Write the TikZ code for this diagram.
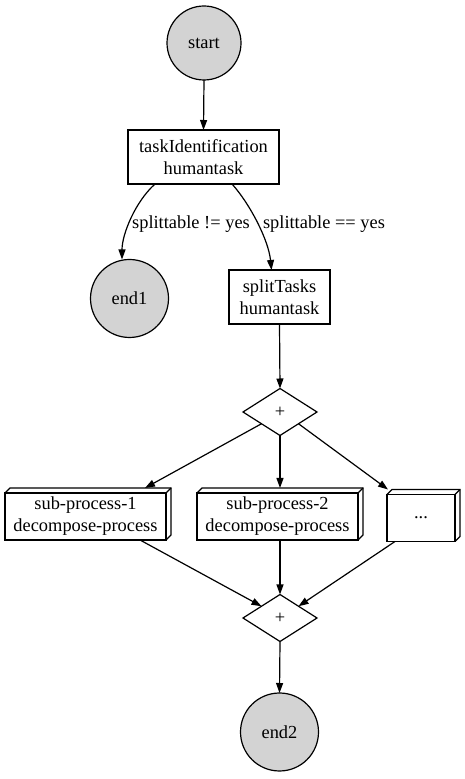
\documentclass[tikz,border=0pt]{standalone}
\usepackage{fontspec}
\setmainfont{Liberation Serif}
\usetikzlibrary{arrows.meta,shapes.geometric,calc}
\definecolor{lgray}{HTML}{D3D3D3}
\newcommand{\boxdepth}[1]{%
  \draw[line width=1.2pt] (#1.north west) -- ++(5,5) -- ($(#1.north east)+(5,5)$) -- ($(#1.south east)+(5,5)$) -- (#1.south east);
  \draw[line width=1.2pt] (#1.north east) -- ++(5,5);}
\begin{document}
\begin{tikzpicture}[x=1pt,y=1pt,
  every node/.style={font=\fontsize{18.4}{22}\selectfont, align=center, inner sep=0pt, outer sep=0pt},
  term/.style={circle, draw, line width=1.2pt, fill=lgray},
  task/.style={rectangle, draw, line width=1.2pt, fill=white, minimum height=54pt},
  gate/.style={diamond, draw, line width=1.2pt, fill=white, minimum width=74pt, minimum height=47pt},
  box3d/.style={rectangle, draw, line width=1.2pt, fill=white, minimum height=47pt},
  arr/.style={line width=1.2pt, -{Triangle[length=10pt,width=7pt]}},
  lbl/.style={font=\fontsize{18.4}{22}\selectfont}]
\useasboundingbox (0,0) rectangle (465,779);
\node[term, minimum size=74pt] (start) at (204,736) {start};
\node[task, minimum width=151pt] (tid) at (203.5,622) {taskIdentification\\humantask};
\node[term, minimum size=78pt] (end1) at (129.5,480.5) {end1};
\node[task, minimum width=101pt] (split) at (279.5,482) {splitTasks\\humantask};
\node[gate] (d1) at (280,367) {+};
\node[box3d, minimum width=161pt] (sp1) at (85.5,262.5) {sub-process-1\\decompose-process};
\node[box3d, minimum width=161pt] (sp2) at (277.5,262.5) {sub-process-2\\decompose-process};
\node[box3d, minimum width=68pt] (dots) at (421,261) {...};
\node[gate] (d2) at (280,161) {+};
\node[term, minimum size=78pt] (end2) at (279.5,47) {end2};
\boxdepth{sp1}
\boxdepth{sp2}
\boxdepth{dots}

\draw[arr] (start.south) -- (tid.north);
\draw[arr] ([xshift=-48.5pt]tid.south) .. controls +(-20,-18) and +(0,25) .. (end1.north -| 122,0);
\draw[arr] ([xshift=28.5pt]tid.south) .. controls +(18,-20) and +(-3,30) .. ([xshift=-8pt]split.north);
\node[lbl] (l1) at (191,555) {splittable != yes};
\node[lbl] (l2) at (324,555) {splittable == yes};
\draw[arr] (split.south) -- (d1.north);
\draw[arr] (d1.south west) -- ([shift={(59.5pt,5pt)}]sp1.north);
\draw[arr] (d1.south) -- ([shift={(2.5pt,5pt)}]sp2.north);
\draw[arr] (d1.south east) -- ([shift={(-33pt,5pt)}]dots.north);
\draw[arr] ([xshift=54.5pt]sp1.south) -- (d2.north west);
\draw[arr] ([xshift=2.5pt]sp2.south) -- (d2.north);
\draw[arr] ([xshift=-26pt]dots.south) -- (d2.north east);
\draw[arr] (d2.south) -- (end2.north);
\end{tikzpicture}
\end{document}
